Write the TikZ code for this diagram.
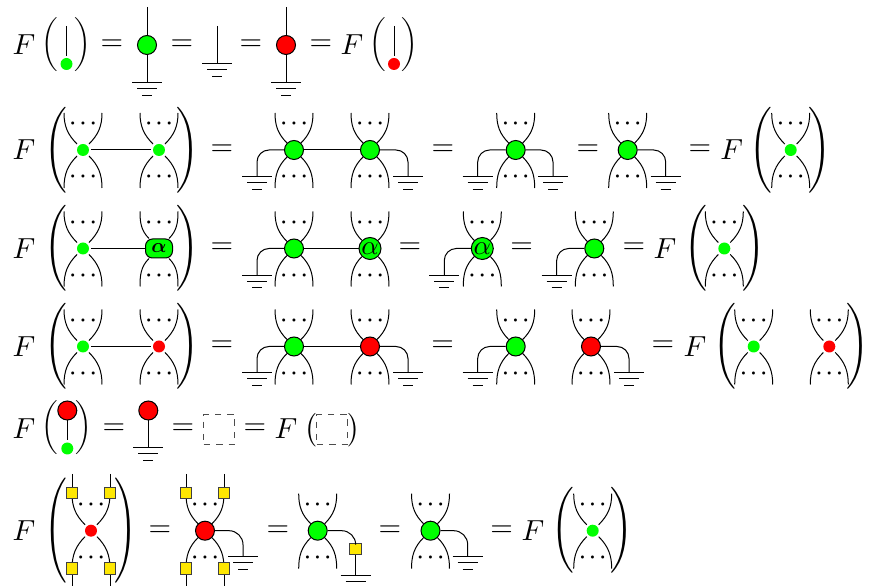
\documentclass[tikz,border=0pt]{standalone}
\usepackage{tikz}
\usetikzlibrary{positioning}
\tikzset{
  wire/.style = {line width=0.5pt, black},
  ellipsis/.style = {inner sep=0pt, scale=1.0, font=\boldmath},
  sign/.style = {inner sep=0pt, scale=1.45},
  delim/.style = {inner sep=0pt},
  greendot/.style = {circle, fill=green, minimum size=6pt, inner sep=0pt, outer sep=1.2pt},
  reddot/.style = {circle, fill=red, minimum size=6pt, inner sep=0pt, outer sep=1.2pt},
  greennode/.style = {circle, draw=black, line width=0.5pt, fill=green, minimum size=9.5pt, inner sep=0pt},
  rednode/.style = {circle, draw=black, line width=0.5pt, fill=red, minimum size=9.5pt, inner sep=0pt},
  alphabox/.style = {rectangle, rounded corners=3.5pt, draw=black, line width=0.5pt, fill=green, minimum width=13.5pt, minimum height=9.5pt, inner sep=0pt, font=\boldmath},
  alphanode/.style = {circle, draw=black, line width=0.5pt, fill=green, minimum size=11pt, inner sep=0pt},
  gatebox/.style = {rectangle, draw=black!75, line width=0.5pt, fill=yellow!90!orange, minimum size=5.8pt, inner sep=0pt},
  emptybox/.style = {rectangle, draw=black!70, line width=0.6pt, dash pattern=on 3.2pt off 3pt, minimum size=15.3pt, inner sep=0pt}
}
% four legs and the two rows of dots round a node
\newcommand{\legs}[1]{
  \coordinate (#1tl) at ([shift={(-19,37)}]#1.center);
  \coordinate (#1tr) at ([shift={(19,37)}]#1.center);
  \coordinate (#1bl) at ([shift={(-19,-38)}]#1.center);
  \coordinate (#1br) at ([shift={(19,-38)}]#1.center);
  \node[ellipsis] (#1up) at ([yshift=13pt]#1.center) {$\cdots$};
  \node[ellipsis] (#1dn) at ([yshift=-13.5pt]#1.center) {$\cdots$};
  \draw[wire] (#1tl) to[out=-90, in=135] (#1.135);
  \draw[wire] (#1tr) to[out=-90, in=45] (#1.45);
  \draw[wire] (#1bl) to[out=90, in=-135] (#1.-135);
  \draw[wire] (#1br) to[out=90, in=-45] (#1.-45);
}
% earth symbol hanging from a named point
\newcommand{\earth}[3]{
  \coordinate (#1) at (#2,#3);
  \draw[wire] ([xshift=-7.5pt]#1) -- ([xshift=7.5pt]#1);
  \draw[wire] ([shift={(-10,-6)}]#1) -- ([shift={(10,-6)}]#1);
  \draw[wire] ([shift={(-5,-12.5)}]#1) -- ([shift={(5,-12.5)}]#1);
}
\begin{document}
\begin{tikzpicture}[x=0.5pt, y=0.5pt]
\useasboundingbox (0,0) rectangle (869,-587);

% First row
\node[sign] (f1a) at (24,-45) {$F$};
\node[delim, scale=1.125] (lp1a) at (50,-45) {$\bigg($};
\node[greendot] (d1a) at (66.5,-64) {};
\coordinate (t1a) at (66.5,-26);
\draw[wire] (t1a) -- (d1a);
\node[delim, scale=1.125] (rp1a) at (83,-45) {$\bigg)$};
\node[sign] (eq1a) at (112,-45) {$=$};
\node[greennode] (n1a) at (147,-45) {};
\coordinate (t1b) at (147,-7);
\earth{g1a}{147}{-83}
\draw[wire] (t1b) -- (n1a);
\draw[wire] (n1a) -- (g1a);
\node[sign] (eq1b) at (182,-45) {$=$};
\coordinate (t1c) at (217,-26);
\earth{g1b}{217}{-64}
\draw[wire] (t1c) -- (g1b);
\node[sign] (eq1c) at (251,-45) {$=$};
\node[rednode] (n1b) at (286,-45) {};
\coordinate (t1d) at (286,-7);
\earth{g1c}{286}{-83}
\draw[wire] (t1d) -- (n1b);
\draw[wire] (n1b) -- (g1c);
\node[sign] (eq1d) at (321,-45) {$=$};
\node[sign] (f1b) at (352,-45) {$F$};
\node[delim, scale=1.125] (lp1b) at (378,-45) {$\bigg($};
\node[reddot] (d1b) at (394,-64) {};
\coordinate (t1e) at (394,-26);
\draw[wire] (t1e) -- (d1b);
\node[delim, scale=1.125] (rp1b) at (410,-45) {$\bigg)$};

% Second row
\node[sign] (f2a) at (24,-150) {$F$};
\node[delim, scale=1.43] (lp2a) at (55.5,-150) {$\Bigg($};
\node[greendot] (d2a) at (83,-150) {};
\node[greendot] (d2b) at (159,-150) {};
\legs{d2a}
\legs{d2b}
\draw[wire] (d2a) -- (d2b);
\node[delim, scale=1.43] (rp2a) at (187.5,-150) {$\Bigg)$};
\node[sign] (eq2a) at (222,-150) {$=$};
\node[greennode] (n2a) at (294,-150) {};
\node[greennode] (n2b) at (370,-150) {};
\legs{n2a}
\legs{n2b}
\draw[wire] (n2a) -- (n2b);
\earth{g2a}{257}{-177}
\earth{g2b}{408}{-177}
\draw[wire, rounded corners=6pt] (n2a) -| (g2a);
\draw[wire, rounded corners=6pt] (n2b) -| (g2b);
\node[sign] (eq2b) at (443,-150) {$=$};
\node[greennode] (n2c) at (515.7,-150) {};
\legs{n2c}
\earth{g2c}{477.7}{-177}
\earth{g2d}{553}{-177}
\draw[wire, rounded corners=6pt] (n2c) -| (g2c);
\draw[wire, rounded corners=6pt] (n2c) -| (g2d);
\node[sign] (eq2c) at (588,-150) {$=$};
\node[greennode] (n2d) at (627.7,-150) {};
\legs{n2d}
\earth{g2e}{665.7}{-177}
\draw[wire, rounded corners=6pt] (n2d) -| (g2e);
\node[sign] (eq2d) at (700,-150) {$=$};
\node[sign] (f2b) at (731.7,-150) {$F$};
\node[delim, scale=1.43] (lp2b) at (760.5,-150) {$\Bigg($};
\node[greendot] (d2c) at (790.7,-150) {};
\legs{d2c}
\node[delim, scale=1.43] (rp2b) at (819.5,-150) {$\Bigg)$};

% Third row
\node[sign] (f3a) at (24,-248.5) {$F$};
\node[delim, scale=1.43] (lp3a) at (55.5,-248.5) {$\Bigg($};
\node[greendot] (d3a) at (83,-248.5) {};
\node[alphabox] (a3a) at (159,-248.5) {$\alpha$};
\legs{d3a}
\legs{a3a}
\draw[wire] (d3a) -- (a3a);
\node[delim, scale=1.43] (rp3a) at (187.5,-248.5) {$\Bigg)$};
\node[sign] (eq3a) at (222,-248.5) {$=$};
\node[greennode] (n3a) at (294,-248.5) {};
\node[alphanode] (a3b) at (370,-248.5) {\scalebox{1.35}{$\alpha$}};
\legs{n3a}
\legs{a3b}
\draw[wire] (n3a) -- (a3b);
\earth{g3a}{257}{-275.3}
\draw[wire, rounded corners=6pt] (n3a) -| (g3a);
\node[sign] (eq3b) at (410,-248.5) {$=$};
\node[alphanode] (a3c) at (482.3,-248.5) {\scalebox{1.35}{$\alpha$}};
\legs{a3c}
\earth{g3b}{444.3}{-275.3}
\draw[wire, rounded corners=6pt] (a3c) -| (g3b);
\node[sign] (eq3c) at (521.7,-248.5) {$=$};
\node[greennode] (n3b) at (594.3,-248.5) {};
\legs{n3b}
\earth{g3c}{556.7}{-275.3}
\draw[wire, rounded corners=6pt] (n3b) -| (g3c);
\node[sign] (eq3d) at (634,-248.5) {$=$};
\node[sign] (f3b) at (665,-248.5) {$F$};
\node[delim, scale=1.43] (lp3b) at (696,-248.5) {$\Bigg($};
\node[greendot] (d3b) at (724.3,-248.5) {};
\legs{d3b}
\node[delim, scale=1.43] (rp3b) at (753.5,-248.5) {$\Bigg)$};

% Fourth row
\node[sign] (f4a) at (24,-346.5) {$F$};
\node[delim, scale=1.43] (lp4a) at (55.5,-346.5) {$\Bigg($};
\node[greendot] (d4a) at (83,-346.5) {};
\node[reddot] (d4b) at (159,-346.5) {};
\legs{d4a}
\legs{d4b}
\draw[wire] (d4a) -- (d4b);
\node[delim, scale=1.43] (rp4a) at (187.5,-346.5) {$\Bigg)$};
\node[sign] (eq4a) at (222,-346.5) {$=$};
\node[greennode] (n4a) at (294,-346.5) {};
\node[rednode] (n4b) at (370,-346.5) {};
\legs{n4a}
\legs{n4b}
\draw[wire] (n4a) -- (n4b);
\earth{g4a}{257}{-373}
\earth{g4b}{408}{-373}
\draw[wire, rounded corners=6pt] (n4a) -| (g4a);
\draw[wire, rounded corners=6pt] (n4b) -| (g4b);
\node[sign] (eq4b) at (442.7,-346.5) {$=$};
\node[greennode] (n4c) at (515.7,-346.5) {};
\node[rednode] (n4d) at (591,-346.5) {};
\legs{n4c}
\legs{n4d}
\earth{g4c}{477.7}{-373}
\earth{g4d}{629}{-373}
\draw[wire, rounded corners=6pt] (n4c) -| (g4c);
\draw[wire, rounded corners=6pt] (n4d) -| (g4d);
\node[sign] (eq4c) at (663,-346.5) {$=$};
\node[sign] (f4b) at (695,-346.5) {$F$};
\node[delim, scale=1.43] (lp4b) at (725,-346.5) {$\Bigg($};
\node[greendot] (d4c) at (753.7,-346.5) {};
\node[reddot] (d4d) at (829.3,-346.5) {};
\legs{d4c}
\legs{d4d}
\node[delim, scale=1.43] (rp4b) at (858,-346.5) {$\Bigg)$};

% Fifth row
\node[sign] (f5a) at (24,-429) {$F$};
\node[delim, scale=1.125] (lp5a) at (50,-428) {$\bigg($};
\node[rednode] (n5a) at (67.3,-410.5) {};
\node[greendot] (d5a) at (67.3,-448.5) {};
\draw[wire] (n5a) -- (d5a);
\node[delim, scale=1.125] (rp5a) at (83.5,-428) {$\bigg)$};
\node[sign] (eq5a) at (114,-429) {$=$};
\node[rednode] (n5b) at (148.3,-410.5) {};
\earth{g5a}{148.3}{-448}
\draw[wire] (n5b) -- (g5a);
\node[sign] (eq5b) at (183,-429) {$=$};
\node[emptybox] (b5a) at (219,-429.5) {};
\node[sign] (eq5c) at (255,-429) {$=$};
\node[sign] (f5b) at (286,-429) {$F$};
\node[delim, scale=1.4] (lp5b) at (311,-430) {$\big($};
\node[emptybox] (b5b) at (332,-429.5) {};
\node[delim, scale=1.4] (rp5b) at (354,-430) {$\big)$};

% Sixth row
\node[sign] (f6a) at (24,-530.7) {$F$};
\node[delim, xscale=1.43, yscale=1.75] (lp6a) at (56,-530.7) {$\Bigg($};
\node[reddot] (d6a) at (91,-530.7) {};
\legs{d6a}
\node[gatebox] (y6a) at (72,-493) {};
\node[gatebox] (y6b) at (110,-493) {};
\node[gatebox] (y6c) at (72,-568.5) {};
\node[gatebox] (y6d) at (110,-568.5) {};
\coordinate (t6a) at (72,-474);
\coordinate (t6b) at (110,-474);
\coordinate (t6c) at (72,-586);
\coordinate (t6d) at (110,-586);
\draw[wire] (t6a) -- (y6a);
\draw[wire] (t6b) -- (y6b);
\draw[wire] (t6c) -- (y6c);
\draw[wire] (t6d) -- (y6d);
\node[delim, xscale=1.43, yscale=1.75] (rp6a) at (126,-530.7) {$\Bigg)$};
\node[sign] (eq6a) at (160,-530.7) {$=$};
\node[rednode] (n6a) at (205,-530.7) {};
\legs{n6a}
\node[gatebox] (y6e) at (186,-493) {};
\node[gatebox] (y6f) at (224,-493) {};
\node[gatebox] (y6g) at (186,-568.5) {};
\node[gatebox] (y6h) at (224,-568.5) {};
\coordinate (t6e) at (186,-474);
\coordinate (t6f) at (224,-474);
\coordinate (t6g) at (186,-586);
\coordinate (t6h) at (224,-586);
\draw[wire] (t6e) -- (y6e);
\draw[wire] (t6f) -- (y6f);
\draw[wire] (t6g) -- (y6g);
\draw[wire] (t6h) -- (y6h);
\earth{g6a}{243}{-557}
\draw[wire, rounded corners=7pt] (n6a) -| (g6a);
\node[sign] (eq6b) at (278,-530.7) {$=$};
\node[greennode] (n6b) at (317.7,-530.7) {};
\legs{n6b}
\node[gatebox] (y6i) at (355.7,-549) {};
\earth{g6b}{355.7}{-576}
\draw[wire, rounded corners=7pt] (n6b) -| (y6i);
\draw[wire] (y6i) -- (g6b);
\node[sign] (eq6c) at (390,-530.7) {$=$};
\node[greennode] (n6c) at (430.5,-530.7) {};
\legs{n6c}
\earth{g6c}{467.7}{-557}
\draw[wire, rounded corners=7pt] (n6c) -| (g6c);
\node[sign] (eq6d) at (501.7,-530.7) {$=$};
\node[sign] (f6b) at (533,-530.7) {$F$};
\node[delim, scale=1.43] (lp6b) at (563,-530.7) {$\Bigg($};
\node[greendot] (d6b) at (592.7,-530.7) {};
\legs{d6b}
\node[delim, scale=1.43] (rp6b) at (621.5,-530.7) {$\Bigg)$};

\end{tikzpicture}
\end{document}
